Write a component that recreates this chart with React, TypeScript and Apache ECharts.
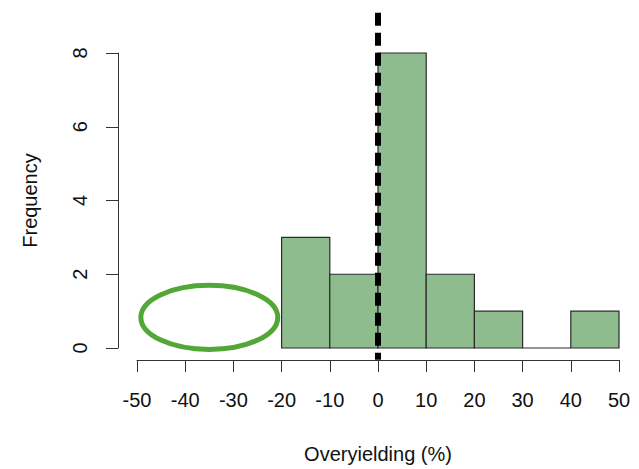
import React, { useEffect, useRef } from "react";
import * as echarts from "echarts";

const binStarts = [-20, -10, 0, 10, 20, 30, 40];
const binWidth = 10;
const counts = [3, 2, 8, 2, 1, 0, 1];
const xTicks = [-50, -40, -30, -20, -10, 0, 10, 20, 30, 40, 50];
const yTicks = [0, 2, 4, 6, 8];
const refLine = [
  [0, 9.09],
  [0, -0.32],
];
// ellipse: centerX, centerY, radiusX, radiusY (data units)
const ellipse = [[-35, 0.83, 14.2, 0.87]];

const FONT = "'Liberation Sans', Arial, Helvetica, sans-serif";

export default function App() {
  const ref = useRef<HTMLDivElement>(null);
  useEffect(() => {
    if (!ref.current) return;
    const chart = echarts.init(ref.current, undefined, { renderer: "svg" });
    const bars = binStarts.map((s, i) => [s, s + binWidth, counts[i]]);
    chart.setOption({
      animation: false,
      textStyle: { fontFamily: FONT },
      grid: { left: 137, right: 20, top: 53, bottom: 116, containLabel: false },
      xAxis: {
        type: "value",
        min: xTicks[0],
        max: xTicks[xTicks.length - 1],
        interval: 10,
        offset: 12,
        axisLine: { show: true, onZero: false, lineStyle: { color: "#333", width: 1 } },
        axisTick: { show: true, length: 12, lineStyle: { color: "#333", width: 1 } },
        axisLabel: { fontSize: 20, color: "#111", margin: 30, fontFamily: FONT },
        splitLine: { show: false },
        name: "Overyielding (%)",
        nameLocation: "middle",
        nameGap: 84,
        nameTextStyle: { fontSize: 20, color: "#111", fontFamily: FONT },
      },
      yAxis: {
        type: "value",
        min: yTicks[0],
        max: yTicks[yTicks.length - 1],
        interval: 2,
        offset: 19,
        axisLine: { show: true, onZero: false, lineStyle: { color: "#333", width: 1 } },
        axisTick: { show: true, length: 12, lineStyle: { color: "#333", width: 1 } },
        axisLabel: { fontSize: 20, color: "#111", rotate: 90, margin: 28, fontFamily: FONT },
        splitLine: { show: false },
        name: "Frequency",
        nameLocation: "middle",
        nameGap: 78,
        nameTextStyle: { fontSize: 20, color: "#111", fontFamily: FONT },
      },
      series: [
        {
          type: "custom",
          data: bars,
          encode: { x: [0, 1], y: 2 },
          clip: false,
          renderItem: (params: any, api: any) => {
            const p0 = api.coord([api.value(0), api.value(2)]);
            const p1 = api.coord([api.value(1), 0]);
            return {
              type: "rect",
              shape: { x: p0[0], y: p0[1], width: p1[0] - p0[0], height: p1[1] - p0[1] },
              style: { fill: "#8fbc8f", stroke: "#2b2b2b", lineWidth: 1.2 },
            };
          },
        },
        {
          type: "custom",
          data: ellipse,
          encode: { x: 0, y: 1 },
          clip: false,
          renderItem: (params: any, api: any) => {
            const c = api.coord([api.value(0), api.value(1)]);
            const s = api.size([api.value(2), api.value(3)]);
            return {
              type: "ellipse",
              shape: { cx: c[0], cy: c[1], rx: s[0], ry: s[1] },
              style: { fill: "none", stroke: "#52a736", lineWidth: 5 },
            };
          },
        },
        {
          type: "line",
          data: refLine,
          symbol: "none",
          clip: false,
          lineStyle: { color: "#000", width: 6, type: [13, 7], cap: "butt" },
          z: 5,
        },
      ],
    });
    return () => chart.dispose();
  }, []);
  return (
    <div
      ref={ref}
      style={{ position: "absolute", left: 0, top: 0, width: 639, height: 469 }}
    />
  );
}
